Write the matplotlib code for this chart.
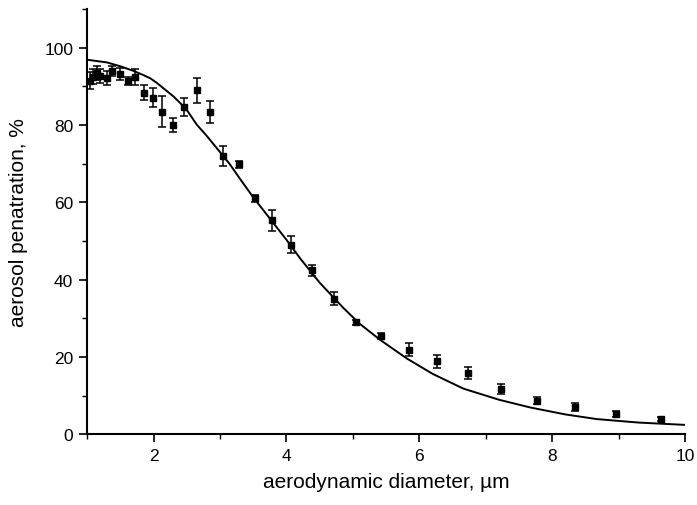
import matplotlib
matplotlib.use("Agg")
import matplotlib.pyplot as plt
from matplotlib.ticker import MultipleLocator

# Measured points
diam = [1.04, 1.09, 1.15, 1.20, 1.30, 1.38, 1.50, 1.61, 1.72, 1.86, 1.99, 2.13,
        2.29, 2.46, 2.65, 2.85, 3.05, 3.29, 3.53, 3.78, 4.07, 4.38, 4.71, 5.05,
        5.43, 5.84, 6.27, 6.73, 7.23, 7.77, 8.34, 8.96, 9.63]
pen = [91.5, 92.5, 93.5, 92.8, 92.2, 94.0, 93.2, 91.4, 92.4, 88.4, 87.1, 83.5,
       80.1, 84.6, 89.0, 83.3, 72.0, 69.8, 61.0, 55.3, 49.0, 42.4, 35.1, 28.9,
       25.4, 21.9, 18.9, 15.8, 11.7, 8.7, 7.0, 5.3, 3.9]
err = [2.2, 2.0, 1.8, 1.8, 1.8, 1.2, 1.5, 1.0, 2.0, 2.0, 2.5, 4.0,
       1.8, 2.3, 3.3, 2.9, 2.6, 0.8, 1.0, 2.6, 2.2, 1.5, 1.8, 0.7,
       0.8, 1.7, 1.7, 1.5, 1.2, 1.0, 1.0, 0.8, 0.6]

# Fitted curve
curve_x = [1.0, 1.3, 1.5, 1.7, 1.85, 1.95, 2.05, 2.15, 2.3, 2.4, 2.5, 2.65,
           2.8, 3.0, 3.15, 3.3, 3.5, 3.75, 4.0, 4.21, 4.5, 4.86, 5.1, 5.41,
           5.81, 6.2, 6.66, 7.2, 7.67, 8.2, 8.67, 9.3, 10.0]
curve_y = [96.9, 96.2, 95.2, 94.0, 92.9, 92.1, 90.9, 89.5, 87.4, 85.7, 83.9,
           80.1, 77.2, 73.0, 69.8, 66.1, 61.3, 55.8, 50.3, 45.4, 39.2, 32.6,
           28.6, 24.4, 19.6, 15.6, 11.8, 8.9, 6.9, 5.1, 3.9, 3.0, 2.4]

xticks = [2, 4, 6, 8, 10]
yticks = [0, 20, 40, 60, 80, 100]

plt.rcParams['font.family'] = ['Liberation Sans', 'DejaVu Sans']

fig = plt.figure(figsize=(6.97, 5.06), dpi=100)
ax = fig.add_axes([0.125, 0.140, 0.858, 0.840])

ax.plot(curve_x, curve_y, color='black', lw=1.4)
ax.errorbar(diam, pen, yerr=err, fmt='s', color='black', ms=3.8,
            capsize=3, elinewidth=1.1, capthick=1.1)

ax.set_xlim(1, 10)
ax.set_ylim(0, 110)
ax.set_xticks(xticks)
ax.set_yticks(yticks)
ax.xaxis.set_minor_locator(MultipleLocator(1))
ax.yaxis.set_minor_locator(MultipleLocator(10))
ax.spines['top'].set_visible(False)
ax.spines['right'].set_visible(False)
ax.spines['left'].set_linewidth(1.5)
ax.spines['bottom'].set_linewidth(1.5)
ax.tick_params(which='major', direction='out', length=6, width=1.2,
               labelsize=12.5, pad=4)
ax.tick_params(which='minor', direction='out', length=3.5, width=1.0)

ax.set_xlabel('aerodynamic diameter, \u00b5m', fontsize=15)
ax.set_ylabel('aerosol penatration, %', fontsize=15)
ax.xaxis.set_label_coords(0.5, -0.088)
ax.yaxis.set_label_coords(-0.099, 0.5)

fig.savefig('out.png', dpi=100)
